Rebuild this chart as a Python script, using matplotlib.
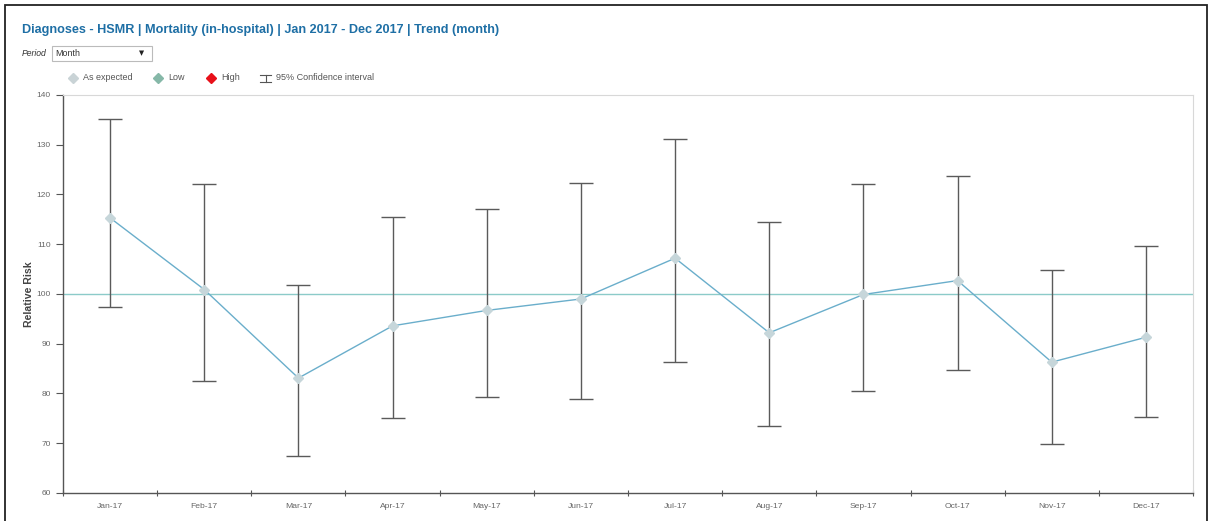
import matplotlib
matplotlib.use("Agg")
import matplotlib.pyplot as plt
from matplotlib.patches import Rectangle
from matplotlib.lines import Line2D

plt.rcParams['font.family'] = ['Liberation Sans', 'DejaVu Sans']

months = ["Jan-17", "Feb-17", "Mar-17", "Apr-17", "May-17", "Jun-17",
          "Jul-17", "Aug-17", "Sep-17", "Oct-17", "Nov-17", "Dec-17"]
relative_risk = [115.3, 100.9, 83.1, 93.6, 96.7, 99.0,
                 107.2, 92.2, 99.9, 102.7, 86.3, 91.3]
ci_upper = [135.2, 122.2, 101.9, 115.5, 117.1, 122.4,
            131.2, 114.5, 122.1, 123.8, 104.9, 109.7]
ci_lower = [97.4, 82.6, 67.4, 75.0, 79.2, 78.9,
            86.3, 73.4, 80.6, 84.8, 69.9, 75.3]
y_ticks = [60, 70, 80, 90, 100, 110, 120, 130, 140]
reference_level = 100

W, H = 1210, 521
fig = plt.figure(figsize=(W / 100, H / 100), dpi=100)

def fx(px):
    return px / W

def fy(py):
    return 1 - py / H

# outer frame
fig.patches.append(Rectangle((fx(5), fy(530)), fx(1202), fy(5) - fy(530),
                             transform=fig.transFigure, fill=False,
                             edgecolor="#222222", linewidth=1.3))

title_color = "#1e6fa5"
fig.text(fx(22), fy(30), "Diagnoses - HSMR | Mortality (in-hospital) | Jan 2017 - Dec 2017 | Trend (month)",
         color=title_color, fontsize=9.05, fontweight="bold", va="center", ha="left")

# period selector
fig.text(fx(22), fy(53), "Period", fontsize=6.2, style="italic", color="#333333",
         va="center", ha="left")
fig.patches.append(Rectangle((fx(52), fy(61)), fx(100), fy(46) - fy(61),
                             transform=fig.transFigure, facecolor="white",
                             edgecolor="#bbbbbb", linewidth=0.8))
fig.text(fx(55), fy(53), "Month", fontsize=6.4, color="#333333", va="center", ha="left")
fig.text(fx(142), fy(53), "\u25bc", fontsize=4.8, color="#222222", va="center",
         ha="center", family="DejaVu Sans")

# legend row
leg_y = fy(78)
legend_items = [
    (73, "#c9d3d6", 83, "As expected"),
    (158, "#86b8a8", 168, "Low"),
    (211, "#e8101a", 221, "High"),
]
for mx, mc, tx, label in legend_items:
    fig.add_artist(Line2D([fx(mx)], [leg_y], marker="D", markersize=5.5,
                          color=mc, markeredgecolor=mc, linestyle="none",
                          transform=fig.transFigure))
    fig.text(fx(tx), leg_y, label, fontsize=6.5, color="#555555", va="center", ha="left")
# confidence-interval symbol
for seg in ([(260, 271), (74.5, 74.5)], [(260, 271), (81.5, 81.5)], [(265.5, 265.5), (74.5, 81.5)]):
    fig.add_artist(Line2D([fx(v) for v in seg[0]], [fy(v) for v in seg[1]],
                          color="#555555", linewidth=0.8, transform=fig.transFigure))
fig.text(fx(276), leg_y, "95% Confidence interval", fontsize=6.5, color="#555555",
         va="center", ha="left")

# main plot area
ax = fig.add_axes([fx(63), fy(493), fx(1193) - fx(63), fy(95) - fy(493)])
x = list(range(len(months)))

ax.axhline(reference_level, color="#8ccbc9", linewidth=1.0, zorder=1)

yerr = [[v - lo for v, lo in zip(relative_risk, ci_lower)],
        [hi - v for v, hi in zip(relative_risk, ci_upper)]]
ax.errorbar(x, relative_risk, yerr=yerr, fmt="none", ecolor="#5a5a5a",
            elinewidth=1.0, capsize=8.6, capthick=1.0, zorder=2)
ax.plot(x, relative_risk, color="#6aaecb", linewidth=1.0, zorder=3)
ax.plot(x, relative_risk, linestyle="none", marker="D", markersize=5.5,
        color="#c6d6da", markeredgecolor="#c6d6da", zorder=4)

ax.set_xlim(-0.5, len(months) - 0.5)
ax.set_ylim(y_ticks[0], y_ticks[-1])
ax.set_yticks(y_ticks)
ax.set_yticklabels([str(t) for t in y_ticks], fontsize=6.0, color="#666666")
ax.tick_params(axis="y", length=5, width=0.8, color="#555555", pad=4)

ax.set_xticks([i - 0.5 for i in range(len(months) + 1)])
ax.set_xticklabels([])
ax.tick_params(axis="x", which="major", length=5, width=0.8, color="#555555", direction="inout")
ax.set_xticks(x, minor=True)
ax.set_xticklabels(months, minor=True, fontsize=6.1, color="#666666")
ax.tick_params(axis="x", which="minor", length=0, pad=7)

ax.set_ylabel("Relative Risk", fontsize=7.6, fontweight="bold", color="#444444", labelpad=1.5)

for side in ("left", "bottom"):
    ax.spines[side].set_color("#555555")
    ax.spines[side].set_linewidth(1.0)
for side in ("top", "right"):
    ax.spines[side].set_color("#d8d8d8")
    ax.spines[side].set_linewidth(0.8)

fig.savefig("out.png", dpi=100)
